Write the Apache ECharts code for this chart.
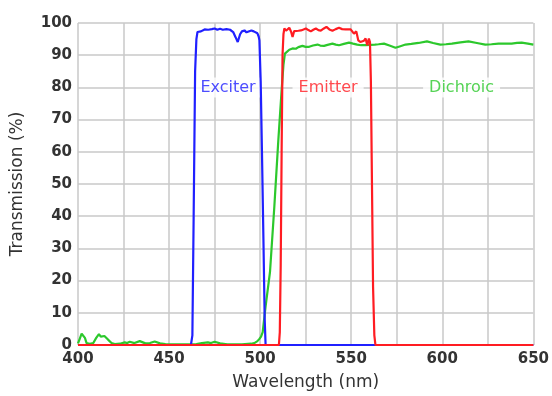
<!DOCTYPE html>
<html>
<head>
<meta charset="utf-8">
<script src="https://cdn.jsdelivr.net/npm/echarts@6/dist/echarts.min.js"></script>
<style>
html,body{margin:0;padding:0;background:#fff;}
#chart{width:552px;height:396px;}
</style>
</head>
<body>
<div id="chart"></div>
<script>
// Wavelength (nm), transmission (%)
var exciterData = [[400,0],[462,0],[462.8,3],[463.5,40],[464.3,85],[465,95],[465.6,97.2],[466.5,96.8],[467.5,97.4],[468.5,97.6],[469.5,98],[470.5,97.6],[471.5,97.9],[472.5,97.7],[473.5,98.1],[475,98.3],[476.5,97.9],[478,98.2],[479.5,97.9],[480.4,98.4],[481.5,98.1],[482.5,97.6],[483.5,97.9],[484.2,97.9],[485.2,97.2],[486.5,95.6],[487.7,94.1],[489,96.5],[490,97.4],[491.4,97.7],[492.5,97.1],[493.5,97.5],[495.2,97.7],[496.5,97.4],[497.5,97.2],[498.5,96.8],[499.2,95.8],[499.6,94.6],[500.3,82],[501,60],[501.8,33],[502.5,8],[503,0],[650,0]];
var emitterData = [[400,0],[510.3,0],[510.8,4],[511.3,25],[511.8,60],[512.3,90],[512.8,96.5],[513.3,98.3],[514.2,97.6],[515,98],[516,98.5],[517,97.3],[517.8,95.7],[518.7,97.5],[519.6,98],[521,97.6],[522.4,97.7],[523.8,98],[525.1,98.3],[526.5,97.8],[527.8,97.4],[529.2,97.9],[530.6,98.3],[532,97.8],[533.3,97.6],[535,98.3],[536.4,98.8],[538,98],[539.7,97.6],[541.5,98.1],[543.3,98.5],[545,98.1],[547,98],[549.7,98],[551.5,96.7],[552.8,97.4],[553.9,94.6],[555,94.1],[555.7,93.6],[557,94.5],[557.9,95.2],[558.8,93.1],[559.7,95.2],[560.3,94.1],[560.8,82],[561.4,50],[562,18],[562.7,3],[563.3,0],[650,0]];
var dichroicData = [[400,0.5],[401,2],[402,3.5],[402.9,3.9],[403.8,2.2],[404.7,0.6],[406.5,0.4],[408.4,0.6],[410,2.2],[411.5,3.4],[412.5,2.6],[413.3,2.4],[414.5,2.8],[415.5,2.2],[416.6,1.6],[418.4,0.6],[420.2,0.3],[423,0.4],[425.7,0.8],[427,0.6],[428.4,1],[431,0.6],[433.9,1.2],[437,0.5],[439.5,0.6],[442.1,1.1],[445,0.5],[448,0.3],[455,0.2],[465,0.3],[468,0.6],[471.3,0.8],[473,0.6],[475,1],[478,0.5],[482,0.2],[490,0.2],[495,0.4],[496.8,0.6],[498.5,1.2],[499.6,1.9],[500.5,2.6],[501.4,4],[503,12],[505.4,22.6],[507.8,43],[510,63.7],[511.8,79.2],[512.8,87],[513.6,90.5],[514.2,91],[516,91.7],[517.8,92.1],[519.6,92],[521,92.5],[523.2,92.9],[525,92.6],[526.9,92.6],[529,93],[531.5,93.3],[533,93],[535.1,92.9],[537,93.2],[539.7,93.6],[541.5,93.3],[543.3,93.1],[546,93.5],[548.8,93.9],[551,93.6],[553.3,93.3],[555.5,93.1],[557.9,93.1],[560.5,93.2],[563,93.3],[565,93.4],[568,93.6],[571,93],[574.3,92.3],[577,92.8],[579.8,93.3],[583,93.5],[587,93.8],[591.6,94.3],[595,93.8],[598.9,93.3],[602,93.4],[605.3,93.6],[610,94],[614.4,94.3],[619,93.8],[623.6,93.3],[627,93.4],[630.9,93.6],[634.5,93.6],[638.1,93.6],[641,93.8],[643.6,93.9],[647,93.6],[650,93.3]];
var seriesNames = ['Exciter', 'Emitter', 'Dichroic'];
var labelPositions = [[482.4, 80], [537.3, 80], [610.6, 80]];
var xTicks = [400, 450, 500, 550, 600, 650];
var yTicks = [0, 10, 20, 30, 40, 50, 60, 70, 80, 90, 100];

var colors = ['#2020ff', '#ff1c22', '#2cc82c'];
var chart = echarts.init(document.getElementById('chart'));
var gridLine = {show: true, lineStyle: {color: '#c9c9c9', width: 1.5}};
var tickFont = {fontFamily: 'DejaVu Sans', fontWeight: 'bold', fontSize: 15, color: '#333333'};

function lineSeries(name, data, color, z) {
  return {
    name: name, type: 'line', data: data, showSymbol: false, smooth: false,
    lineStyle: {color: color, width: 2.2}, z: z, animation: false
  };
}
function labelSeries(idx) {
  return {
    type: 'scatter', symbolSize: 0, z: 1, silent: true, animation: false,
    data: [labelPositions[idx]],
    label: {
      show: true, position: 'inside', formatter: seriesNames[idx],
      fontFamily: 'DejaVu Sans', fontSize: 16, color: colors[idx],
      backgroundColor: '#ffffff', padding: [2, 6]
    }
  };
}

chart.setOption({
  animation: false,
  backgroundColor: '#ffffff',
  grid: {left: 78, right: 17, top: 23, bottom: 50},
  xAxis: {
    type: 'value', min: 400, max: 650, interval: 25,
    name: 'Wavelength (nm)', nameLocation: 'middle', nameGap: 29,
    nameTextStyle: {fontFamily: 'DejaVu Sans', fontSize: 17, color: '#333333'},
    axisLine: {show: false},
    axisTick: {show: false},
    axisLabel: Object.assign({margin: 7, formatter: function (v) {
      return xTicks.indexOf(v) >= 0 ? String(v) : '';
    }}, tickFont),
    splitLine: gridLine
  },
  yAxis: {
    type: 'value', min: 0, max: 100, interval: 10,
    name: 'Transmission (%)', nameLocation: 'middle', nameGap: 52,
    nameTextStyle: {fontFamily: 'DejaVu Sans', fontSize: 17, color: '#333333'},
    axisLine: {show: false},
    axisTick: {show: false},
    axisLabel: Object.assign({margin: 6, formatter: function (v) {
      return yTicks.indexOf(v) >= 0 ? String(v) : '';
    }}, tickFont),
    splitLine: gridLine
  },
  series: [
    labelSeries(0), labelSeries(1), labelSeries(2),
    lineSeries('Dichroic', dichroicData, colors[2], 2),
    lineSeries('Exciter', exciterData, colors[0], 3),
    lineSeries('Emitter', emitterData, colors[1], 4)
  ]
});
</script>
</body>
</html>
